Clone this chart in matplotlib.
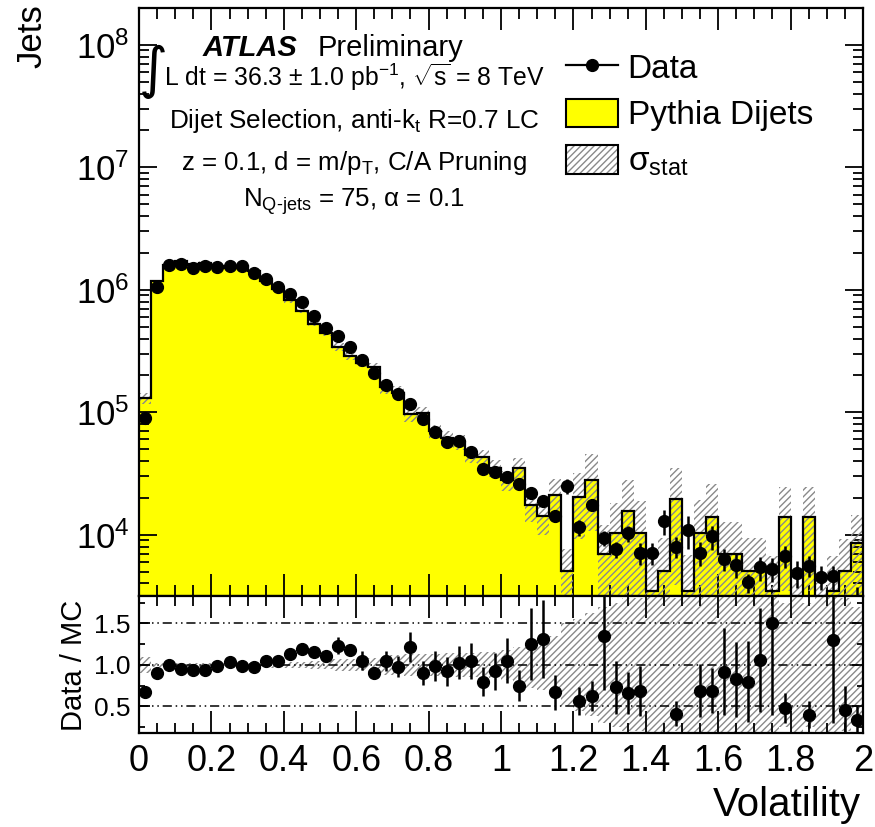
import numpy as np
import matplotlib
matplotlib.use("Agg")
import matplotlib.pyplot as plt
from matplotlib.patches import Patch
from matplotlib.lines import Line2D
from matplotlib.ticker import MultipleLocator, LogLocator, FixedLocator, NullFormatter, FuncFormatter

plt.rcParams["font.family"] = ["Liberation Sans", "DejaVu Sans"]
plt.rcParams["mathtext.fontset"] = "custom"
plt.rcParams["mathtext.rm"] = "Liberation Sans"
plt.rcParams["mathtext.it"] = "Liberation Sans:italic"
plt.rcParams["mathtext.bf"] = "Liberation Sans:bold"
plt.rcParams["hatch.linewidth"] = 1.0

# ---- binning: 60 bins of volatility on [0, 2]
x_min, x_max, n_bins = 0.0, 2.0, 60

# ---- Pythia dijet prediction (jets per bin)
mc = [1.31e5, 1.18e6, 1.58e6, 1.71e6, 1.62e6, 1.67e6, 1.55e6, 1.52e6, 1.57e6, 1.42e6,
      1.17e6, 1.01e6, 8.2e5, 6.7e5, 5.3e5, 4.4e5, 3.42e5, 2.88e5, 2.52e5, 2.33e5,
      1.60e5, 1.45e5, 9.6e4, 9.8e4, 7.0e4, 6.2e4, 5.7e4, 4.5e4, 4.3e4, 3.5e4,
      2.8e4, 3.48e4, 1.75e4, 1.42e4, 2.1e4, 5.1e3, 2.05e4, 2.8e4, 7.0e3, 1.04e4,
      1.56e4, 1.04e4, 3.5e3, 5.1e3, 1.95e4, 3.5e3, 1.03e4, 1.40e4, 6.9e3, 6.9e3,
      5.1e3, 5.1e3, 3.5e3, 1.40e4, 2.0e3, 1.40e4, 2.0e3, 3.5e3, 5.1e3, 8.5e3]

# relative MC statistical uncertainty (hatched band)
mc_rel_err = [0.10, 0.02, 0.02, 0.02, 0.02, 0.02, 0.02, 0.02, 0.02, 0.02,
              0.04, 0.04, 0.04, 0.04, 0.05, 0.05, 0.07, 0.07, 0.07, 0.08,
              0.12, 0.12, 0.13, 0.13, 0.13, 0.14, 0.14, 0.14, 0.15, 0.16,
              0.18, 0.22, 0.28, 0.30, 0.35, 0.50, 0.55, 0.62, 0.70, 0.75,
              0.80, 0.80, 0.95, 0.85, 0.80, 0.95, 0.85, 0.85, 0.85, 0.85,
              0.85, 0.85, 0.90, 0.75, 1.00, 0.75, 1.00, 0.90, 0.80, 0.70]

# ---- data (jets per bin)
data = [8.9e4, 1.06e6, 1.58e6, 1.62e6, 1.52e6, 1.57e6, 1.53e6, 1.57e6, 1.55e6, 1.38e6,
        1.22e6, 1.06e6, 9.27e5, 8.02e5, 6.13e5, 4.87e5, 4.21e5, 3.40e5, 2.65e5, 2.10e5,
        1.68e5, 1.42e5, 1.17e5, 8.85e4, 6.89e4, 5.71e4, 5.85e4, 4.70e4, 3.44e4, 3.23e4,
        2.94e4, 2.61e4, 2.19e4, 1.87e4, 1.41e4, 2.48e4, 1.15e4, 1.76e4, 9.45e3, 7.6e3,
        1.03e4, 7.1e3, 7.1e3, 1.29e4, 8.0e3, 1.10e4, 7.1e3, 9.68e3, 6.34e3, 5.69e3,
        4.08e3, 5.41e3, 5.25e3, 6.7e3, 4.87e3, 5.6e3, 4.52e3, 4.57e3, 2.35e3, 2.9e3]

# relative statistical uncertainty on data
data_rel_err = [0.004] * 20 + [
    0.02, 0.02, 0.02, 0.02, 0.02, 0.04, 0.04, 0.04, 0.04, 0.04,
    0.07, 0.07, 0.07, 0.07, 0.07, 0.14, 0.15, 0.12, 0.14, 0.15,
    0.15, 0.20, 0.20, 0.23, 0.20, 0.30, 0.22, 0.22, 0.20, 0.22,
    0.18, 0.22, 0.22, 0.20, 0.25, 0.20, 0.22, 0.22, 0.30, 0.30]

# uncertainty on the Data / MC ratio
ratio_err = [0.03] + [0.02] * 15 + [
    0.10, 0.05, 0.11, 0.05,
    0.12, 0.13, 0.18, 0.15, 0.18, 0.17, 0.20, 0.22, 0.18, 0.22,
    0.27, 0.19, 0.43, 0.47, 0.21, 0.70, 0.17, 0.18, 0.65, 0.32,
    0.25, 0.30, 0.15, 0.60, 0.15, 0.90, 0.32, 0.27, 0.52, 0.45,
    0.49, 0.63, 1.10, 0.18, 0.50, 0.16, 0.40, 1.00, 0.29, 0.16]

x_ticks_major = [0, 0.2, 0.4, 0.6, 0.8, 1.0, 1.2, 1.4, 1.6, 1.8, 2.0]
ratio_ticks = [0.5, 1.0, 1.5]

# ---------------------------------------------------------------------------
mc = np.array(mc)
data = np.array(data)
mc_rel_err = np.array(mc_rel_err)
data_rel_err = np.array(data_rel_err)
ratio_err = np.array(ratio_err)
edges = np.linspace(x_min, x_max, n_bins + 1)
centers = 0.5 * (edges[:-1] + edges[1:])
ratio = data / mc

W, H = 875, 827
fig = plt.figure(figsize=(W / 100, H / 100), dpi=100)


def fx(px):
    return px / W


def fy(py):
    return 1 - py / H


ax = fig.add_axes([fx(139), fy(596), fx(863) - fx(139), fy(8) - fy(596)])
axr = fig.add_axes([fx(139), fy(733), fx(863) - fx(139), fy(596) - fy(733)], sharex=ax)

YELLOW = "#ffff00"
HATCH_C = "#8a8a8a"

# ---- main panel
ax.set_yscale("log")
ax.set_xlim(x_min, x_max)
ax.set_ylim(3.16e3, 2.0e8)

ax.stairs(mc, edges, baseline=1.0, fill=True, facecolor=YELLOW, edgecolor="none", zorder=1)
band_hi = mc * (1 + mc_rel_err)
band_lo = np.clip(mc * (1 - mc_rel_err), 1.0, None)
ax.stairs(band_hi, edges, baseline=band_lo, fill=True, facecolor="none",
          edgecolor=HATCH_C, hatch="/////", linewidth=0, zorder=2)
ax.stairs(mc, edges, baseline=None, color="black", linewidth=1.6, zorder=3)
ax.errorbar(centers, data, yerr=data * data_rel_err, fmt="o", ms=8.5, color="black",
            elinewidth=1.8, capsize=0, zorder=4)

ax.xaxis.set_major_locator(FixedLocator(x_ticks_major))
ax.xaxis.set_minor_locator(MultipleLocator(0.05))
ax.yaxis.set_major_locator(LogLocator(base=10))
ax.yaxis.set_minor_locator(LogLocator(base=10, subs=np.arange(2, 10)))
ax.yaxis.set_minor_formatter(NullFormatter())
ax.tick_params(which="both", direction="in", top=True, right=True, labelbottom=False)
ax.tick_params(axis="x", which="major", length=16, width=1.3)
ax.tick_params(axis="x", which="minor", length=8, width=1.3)
ax.tick_params(axis="y", which="major", length=13, width=1.3, labelsize=25, pad=7)
ax.tick_params(axis="y", which="minor", length=7, width=1.3)

# ---- ratio panel
axr.set_ylim(0.18, 1.83)
axr.stairs(1 + mc_rel_err, edges, baseline=1 - mc_rel_err, fill=True, facecolor="none",
           edgecolor=HATCH_C, hatch="/////", linewidth=0, zorder=1)
for v in ratio_ticks:
    axr.axhline(v, color="black", linewidth=1.1, linestyle=(0, (6, 2.5, 1, 2.5, 1, 2.5)), zorder=2)
axr.errorbar(centers, ratio, yerr=ratio_err, fmt="o", ms=8.5, color="black",
             elinewidth=1.8, capsize=0, zorder=4)

axr.yaxis.set_major_locator(FixedLocator(ratio_ticks))
axr.yaxis.set_minor_locator(FixedLocator([0.25, 0.75, 1.25, 1.75]))
axr.yaxis.set_major_formatter(FuncFormatter(lambda v, p: f"{v:.1f}"))
axr.xaxis.set_major_formatter(FuncFormatter(lambda v, p: f"{v:g}"))
axr.tick_params(which="both", direction="in", top=True, right=True)
axr.tick_params(axis="x", which="major", length=16, width=1.3, labelsize=26, pad=8)
axr.tick_params(axis="x", which="minor", length=7, width=1.3)
axr.tick_params(axis="y", which="major", length=8, width=1.3, labelsize=19, pad=6)
axr.tick_params(axis="y", which="minor", length=4, width=1.3)

for a in (ax, axr):
    for s in a.spines.values():
        s.set_linewidth(1.6)

# ---- axis titles
fig.text(fx(32), fy(4), "Jets", rotation=90, ha="center", va="top", fontsize=25)
fig.text(fx(74), fy(665), "Data / MC", rotation=90, ha="center", va="center", fontsize=21)
fig.text(fx(861), fy(816), "Volatility", ha="right", va="baseline", fontsize=29)

# ---- ATLAS label and selection text
fig.text(fx(203), fy(48), "ATLAS", ha="left", va="center", fontsize=21,
         fontweight="bold", fontstyle="italic")
fig.text(fx(318), fy(48), "Preliminary", ha="left", va="center", fontsize=21)
fig.text(fx(153), fy(72), "\u222b", ha="center", va="center", fontsize=40,
         family=["DejaVu Sans"])
info_x = fx(354)
fig.text(info_x, fy(77),
         r"L dt = 36.3 $\pm$ 1.0 pb$^{\mathregular{-1}}$, $\mathregular{\sqrt{s}}$ = 8 TeV",
         ha="center", va="center", fontsize=17.8)
fig.text(info_x, fy(121), r"Dijet Selection, anti-k$_{\mathregular{t}}$ R=0.7 LC",
         ha="center", va="center", fontsize=18.8)
fig.text(info_x, fy(163), r"z = 0.1, d = m/p$_{\mathregular{T}}$, C/A Pruning",
         ha="center", va="center", fontsize=18.6)
fig.text(info_x, fy(202), r"N$_{\mathregular{Q\text{-}jets}}$ = 75, $\mathregular{\alpha}$ = 0.1",
         ha="center", va="center", fontsize=18.6)

# ---- legend
h_data = Line2D([], [], color="black", marker="o", ms=8.5, linewidth=1.6)
h_mc = Patch(facecolor=YELLOW, edgecolor="black", linewidth=1.5)
h_stat = (Patch(facecolor="white", edgecolor=HATCH_C, hatch="/////", linewidth=0),
          Patch(facecolor="none", edgecolor="black", linewidth=1.5))
fig.legend([h_data, h_mc, h_stat], ["Data", "Pythia Dijets", "\u03c3$_{\\mathregular{stat}}$"],
           loc="upper left", bbox_to_anchor=(fx(566), fy(52)), frameon=False,
           fontsize=24, handlelength=1.56, handleheight=0.93, handletextpad=0.29,
           labelspacing=0.42, borderpad=0, borderaxespad=0)

fig.savefig("out.png", dpi=100)
